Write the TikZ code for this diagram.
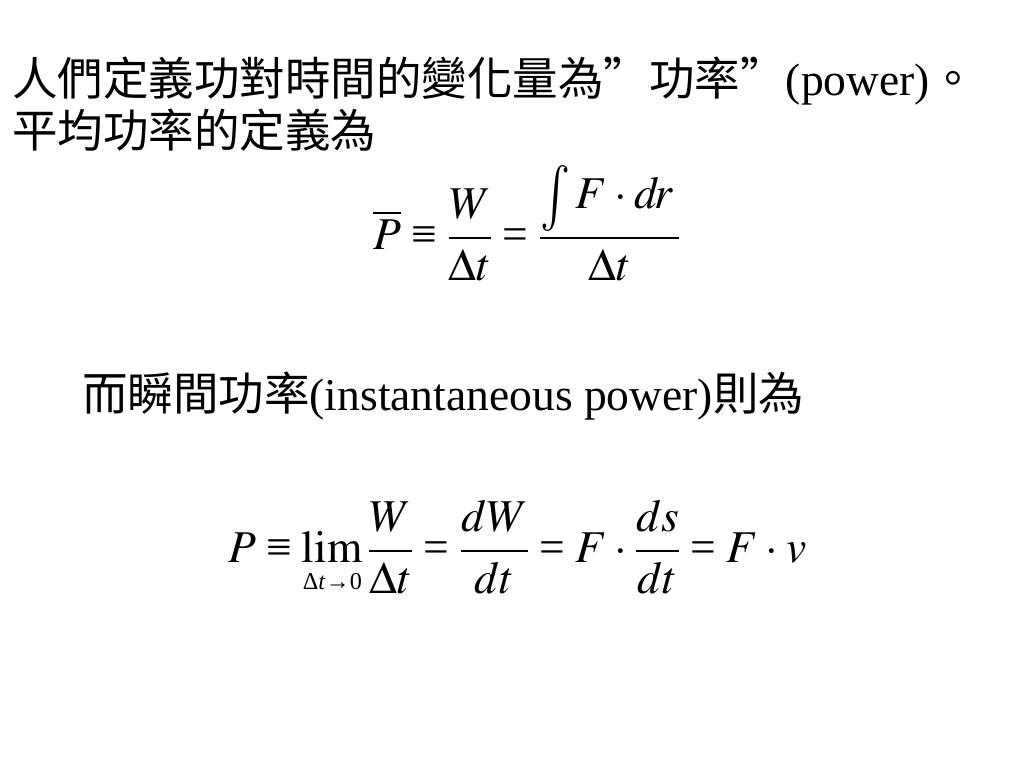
\documentclass[tikz,border=0pt]{standalone}
\usepackage{mathptmx}
\usepackage{graphicx}
\usepackage[no-math]{fontspec}
\setmainfont{Liberation Serif}
\newfontfamily\cjk{Noto Sans CJK TC}
\newcommand\myeqv{\mathrel{\mbox{≡}}}
\newcommand\myeq{\mathrel{\mbox{=}}}
\newcommand\myint{\mathop{\raisebox{-0.32ex}{\scalebox{1.1}[1.45]{$\textstyle\int$}}}\nolimits}
\newcommand\mysub{\hbox{\fontsize{17bp}{17bp}\selectfont Δ\textit{t}→0}}
\tikzset{txt/.style={inner sep=0pt, anchor=base west, font=\fontsize{32bp}{38bp}\selectfont}}
\begin{document}
\begin{tikzpicture}[x=0.703125bp, y=-0.703125bp]
\fill[white] (0,0) rectangle (1024,768);
\useasboundingbox (0,0) rectangle (1024,768);
\node[txt] (l1) at (12,95) {{\cjk 人們定義功對時間的變化量為”功率”}(power){\cjk 。}};
\node[txt] (l2) at (12,147) {\cjk 平均功率的定義為};
\node[txt] (eq1) at (373,249) {\thickmuskip=4mu\medmuskip=3mu$\displaystyle \overline{P} \myeqv \frac{W}{\Delta t} \myeq \frac{\myint F\cdot d\!r\,}{\Delta t}$};
\node[txt] (l3) at (82,410) {{\cjk 而瞬間功率}(instantaneous power){\cjk 則為}};
\node[txt] (eq2) at (228,562) {\thickmuskip=4mu\medmuskip=3mu$\displaystyle P \myeqv \lim_{\mysub}\frac{W}{\Delta t} \myeq \frac{dW}{dt} \myeq F\cdot\frac{ds}{dt} \myeq F\cdot v$};
\end{tikzpicture}
\end{document}
